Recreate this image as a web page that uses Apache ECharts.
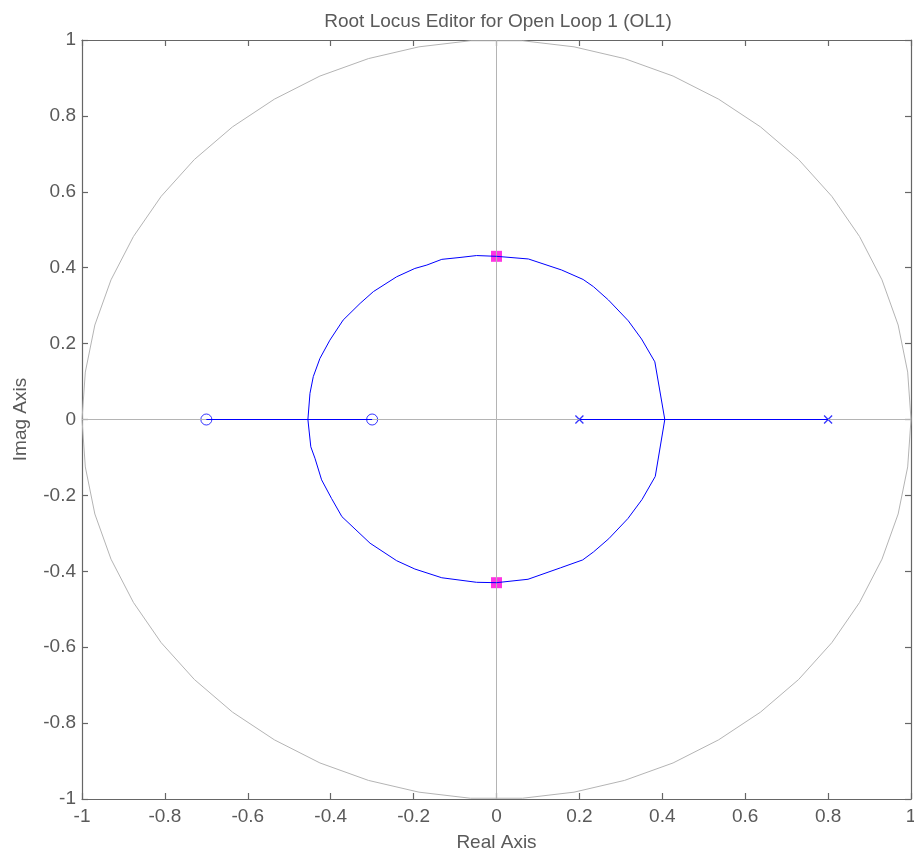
<!DOCTYPE html>
<html>
<head>
<meta charset="utf-8">
<script src="https://cdn.jsdelivr.net/npm/echarts@6/dist/echarts.min.js"></script>
<style>html,body{margin:0;padding:0;background:#fff;overflow:hidden;width:914px;height:856px}#c{width:914px;height:856px}</style>
</head>
<body>
<div id="c"></div>
<script>
// ---- data ----
const xTicks = [-1, -0.8, -0.6, -0.4, -0.2, 0, 0.2, 0.4, 0.6, 0.8, 1];
const yTicks = [-1, -0.8, -0.6, -0.4, -0.2, 0, 0.2, 0.4, 0.6, 0.8, 1];
const zeros = [[-0.7, 0], [-0.3, 0]];
const poles = [[0.2, 0], [0.8, 0]];
const closedLoopPoles = [[0, 0.43], [0, -0.43]];
const realSegLeft = [[-0.7, 0], [-0.3, 0]];
const realSegRight = [[0.2, 0], [0.8, 0]];
const upperArc = [[0.406,0],[0.382,0.152],[0.350,0.212],[0.318,0.260],[0.270,0.315],[0.234,0.350],[0.209,0.369],[0.157,0.394],[0.077,0.423],[0,0.43],[-0.048,0.432],[-0.088,0.427],[-0.132,0.422],[-0.168,0.407],[-0.197,0.398],[-0.241,0.376],[-0.297,0.337],[-0.329,0.306],[-0.370,0.262],[-0.402,0.209],[-0.426,0.161],[-0.442,0.113],[-0.450,0.069],[-0.455,0]];
const lowerArc = [[0.406,0],[0.383,-0.150],[0.351,-0.211],[0.317,-0.261],[0.271,-0.314],[0.234,-0.349],[0.208,-0.370],[0.154,-0.391],[0.076,-0.421],[0,-0.43],[-0.048,-0.429],[-0.132,-0.417],[-0.197,-0.394],[-0.241,-0.372],[-0.305,-0.326],[-0.373,-0.256],[-0.398,-0.208],[-0.422,-0.159],[-0.438,-0.102],[-0.448,-0.072],[-0.455,0]];
const unitCircle = [[1,0],[0.992,0.125],[0.969,0.249],[0.930,0.368],[0.876,0.482],[0.809,0.588],[0.729,0.685],[0.637,0.771],[0.536,0.844],[0.426,0.905],[0.309,0.951],[0.187,0.982],[0.063,0.998],[-0.063,0.998],[-0.187,0.982],[-0.309,0.951],[-0.426,0.905],[-0.536,0.844],[-0.637,0.771],[-0.729,0.685],[-0.809,0.588],[-0.876,0.482],[-0.930,0.368],[-0.969,0.249],[-0.992,0.125],[-1,0],[-0.992,-0.125],[-0.969,-0.249],[-0.930,-0.368],[-0.876,-0.482],[-0.809,-0.588],[-0.729,-0.685],[-0.637,-0.771],[-0.536,-0.844],[-0.426,-0.905],[-0.309,-0.951],[-0.187,-0.982],[-0.063,-0.998],[0.063,-0.998],[0.187,-0.982],[0.309,-0.951],[0.426,-0.905],[0.536,-0.844],[0.637,-0.771],[0.729,-0.685],[0.809,-0.588],[0.876,-0.482],[0.930,-0.368],[0.969,-0.249],[0.992,-0.125],[1,0]];
const realAxisLine = [[-1, 0], [1, 0]];
const imagAxisLine = [[0, -1], [0, 1]];

// ---- styling ----
const FONT = 'Liberation Sans';
const TXT = '#5a5a5a';
const AX = '#666666';
const GREY = '#b4b4b4';
const BLUE = '#0000ff';

function fmt(v) { return String(Math.round(v * 10) / 10); }

function axisBase(extra) {
  return Object.assign({
    type: 'value', min: -1, max: 1, interval: 0.2,
    axisLine: { show: true, onZero: false, lineStyle: { color: AX, width: 1.2 } },
    axisTick: { show: true, inside: true, length: 6, lineStyle: { color: AX, width: 1.2 } },
    splitLine: { show: false },
  }, extra);
}

const chart = echarts.init(document.getElementById('c'), null, { renderer: 'canvas', width: 914, height: 856 });
chart.setOption({
  animation: false,
  backgroundColor: '#ffffff',
  title: {
    text: 'Root Locus Editor for Open Loop 1 (OL1)',
    left: 493, top: 7, textAlign: 'center',
    textStyle: { fontFamily: FONT, fontSize: 19, fontWeight: 'normal', color: TXT }
  },
  grid: { left: 82, right: 3, top: 40, bottom: 57, containLabel: false, outerBoundsMode: 'none' },
  xAxis: [
    axisBase({
      position: 'bottom',
      name: 'Real Axis', nameLocation: 'middle', nameGap: 34,
      nameTextStyle: { fontFamily: FONT, fontSize: 19, color: TXT },
      axisLabel: { show: true, margin: 8, fontFamily: FONT, fontSize: 19, color: TXT,
        formatter: v => xTicks.some(t => Math.abs(t - v) < 1e-9) ? fmt(v) : '' }
    }),
    axisBase({ position: 'top', axisLabel: { show: false } })
  ],
  yAxis: [
    axisBase({
      position: 'left',
      name: 'Imag Axis', nameLocation: 'middle', nameGap: 52,
      nameTextStyle: { fontFamily: FONT, fontSize: 19, color: TXT },
      axisLabel: { show: true, margin: 6, fontFamily: FONT, fontSize: 19, color: TXT,
        formatter: v => yTicks.some(t => Math.abs(t - v) < 1e-9) ? fmt(v) : '' }
    }),
    axisBase({ position: 'right', axisLabel: { show: false } })
  ],
  series: [
    { type: 'line', data: unitCircle, showSymbol: false, symbol: 'none', lineStyle: { color: GREY, width: 1 }, silent: true },
    { type: 'line', data: realAxisLine, showSymbol: false, symbol: 'none', lineStyle: { color: GREY, width: 1 }, silent: true },
    { type: 'line', data: imagAxisLine, showSymbol: false, symbol: 'none', lineStyle: { color: GREY, width: 1 }, silent: true },
    { type: 'line', data: realSegLeft, showSymbol: false, symbol: 'none', lineStyle: { color: BLUE, width: 1 } },
    { type: 'line', data: realSegRight, showSymbol: false, symbol: 'none', lineStyle: { color: BLUE, width: 1 } },
    { type: 'line', data: upperArc, showSymbol: false, symbol: 'none', lineStyle: { color: BLUE, width: 1 } },
    { type: 'line', data: lowerArc, showSymbol: false, symbol: 'none', lineStyle: { color: BLUE, width: 1 } },
    { type: 'scatter', data: zeros, symbol: 'circle', symbolSize: 11,
      itemStyle: { color: 'rgba(0,0,0,0)', borderColor: BLUE, borderWidth: 1 } },
    { type: 'scatter', data: poles, symbol: 'path://M0,0L10,10M10,0L0,10', symbolSize: 8,
      itemStyle: { color: 'rgba(0,0,0,0)', borderColor: BLUE, borderWidth: 1.3 } },
    { type: 'scatter', data: closedLoopPoles, symbol: 'rect', symbolSize: 11,
      itemStyle: { color: '#ff00dd', borderWidth: 0 } }
  ]
});
</script>
</body>
</html>
